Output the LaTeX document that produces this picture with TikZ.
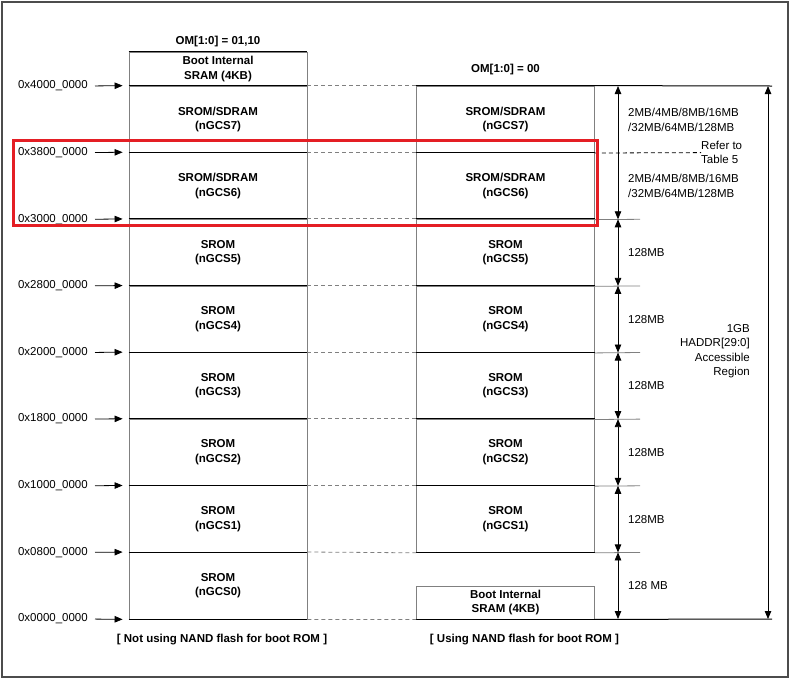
\documentclass[tikz,border=0pt]{standalone}
\usepackage{fontspec}
\setmainfont{Liberation Sans}
\usepackage{tikz}
\usetikzlibrary{arrows.meta,positioning}
\definecolor{hlred}{RGB}{228,30,36}
\newcommand{\mapfont}{\fontsize{11.5}{14.5}\selectfont}

\begin{document}
\begin{tikzpicture}[x=1pt, y=-1pt,
  every node/.style={font=\mapfont},
  cell/.style={draw=black!50, line width=0.8pt, minimum width=178pt,
               minimum height=66.625pt, inner sep=0pt,
               font=\mapfont\bfseries, align=center},
  bootbox/.style={cell, minimum height=34pt},
  addr/.style={anchor=east, inner sep=0pt},
  sz/.style={anchor=west, align=left, inner sep=0pt},
  capt/.style={font=\mapfont\bfseries},
  arr/.style={-{Triangle[length=8pt,width=6.5pt]}, line width=0.8pt,
              shorten <=7pt, shorten >=6pt},
  darr/.style={{Triangle[length=8pt,width=6.5pt]}-{Triangle[length=8pt,width=6.5pt]},
               line width=0.8pt},
  bound/.style={line width=1pt},
  guide/.style={black!50, line width=0.8pt},
  link/.style={dash pattern=on 4pt off 3pt, black!50, line width=0.8pt},
]
\useasboundingbox (0,0) rectangle (791,681);

% ---- Frame -----------------------------------------------------------------
\draw[black!70, line width=1.3pt] (2,2) rectangle (788,677);

% ---- Left map: OM[1:0] = 01,10 ---------------------------------------------
\node[capt] (omA) at (218,42) {OM[1:0] = 01,10};
\node[bootbox] (bootL) at (218,69) {Boot Internal\\SRAM (4KB)};
\node[cell] (L7) at (218,119.3) {SROM/SDRAM\\(nGCS7)};
\node[cell] (L6) at (218,185.9) {SROM/SDRAM\\(nGCS6)};
\node[cell] (L5) at (218,252.6) {SROM\\(nGCS5)};
\node[cell] (L4) at (218,319.2) {SROM\\(nGCS4)};
\node[cell] (L3) at (218,385.8) {SROM\\(nGCS3)};
\node[cell] (L2) at (218,452.4) {SROM\\(nGCS2)};
\node[cell] (L1) at (218,519.1) {SROM\\(nGCS1)};
\node[cell] (L0) at (218,585.7) {SROM\\(nGCS0)};
\node[capt] (capL) at (222,640) {[ Not using NAND flash for boot ROM ]};

% row boundaries
\draw[bound] (bootL.north west) -- (bootL.north east);
\draw[bound] (L7.north west) -- (L7.north east);
\draw[bound] (L6.north west) -- (L6.north east);
\draw[bound] (L5.north west) -- (L5.north east);
\draw[bound] (L4.north west) -- (L4.north east);
\draw[bound] (L3.north west) -- (L3.north east);
\draw[bound] (L2.north west) -- (L2.north east);
\draw[bound] (L1.north west) -- (L1.north east);
\draw[bound] (L0.north west) -- (L0.north east);
\draw[bound] (L0.south west) -- (L0.south east);

% ---- Addresses -------------------------------------------------------------
\node[addr] (a40) at (88,86) {0x4000\_0000};
\node[addr] (a38) at (88,152.6) {0x3800\_0000};
\node[addr] (a30) at (88,219.3) {0x3000\_0000};
\node[addr] (a28) at (88,285.9) {0x2800\_0000};
\node[addr] (a20) at (88,352.5) {0x2000\_0000};
\node[addr] (a18) at (88,419.1) {0x1800\_0000};
\node[addr] (a10) at (88,485.8) {0x1000\_0000};
\node[addr] (a08) at (88,552.4) {0x0800\_0000};
\node[addr] (a00) at (88,619) {0x0000\_0000};
\draw[arr] (a40.east) -- (L7.north west);
\draw[arr] (a38.east) -- (L6.north west);
\draw[arr] (a30.east) -- (L5.north west);
\draw[arr] (a28.east) -- (L4.north west);
\draw[arr] (a20.east) -- (L3.north west);
\draw[arr] (a18.east) -- (L2.north west);
\draw[arr] (a10.east) -- (L1.north west);
\draw[arr] (a08.east) -- (L0.north west);
\draw[arr] (a00.east) -- (L0.south west);

% ---- Right map: OM[1:0] = 00 -----------------------------------------------
\node[capt] (omB) at (505.5,70) {OM[1:0] = 00};
\node[cell] (R7) at (505.5,119.3) {SROM/SDRAM\\(nGCS7)};
\node[cell] (R6) at (505.5,185.9) {SROM/SDRAM\\(nGCS6)};
\node[cell] (R5) at (505.5,252.6) {SROM\\(nGCS5)};
\node[cell] (R4) at (505.5,319.2) {SROM\\(nGCS4)};
\node[cell] (R3) at (505.5,385.8) {SROM\\(nGCS3)};
\node[cell] (R2) at (505.5,452.4) {SROM\\(nGCS2)};
\node[cell] (R1) at (505.5,519.1) {SROM\\(nGCS1)};
\node[bootbox, minimum height=33pt] (bootR) at (505.5,602.5) {Boot Internal\\SRAM (4KB)};
\node[capt] (capR) at (524.5,640) {[ Using NAND flash for boot ROM ]};

\draw[bound] (R7.north west) -- (R7.north east);
\draw[bound] (R6.north west) -- (R6.north east);
\draw[bound] (R5.north west) -- (R5.north east);
\draw[bound] (R4.north west) -- (R4.north east);
\draw[bound] (R3.north west) -- (R3.north east);
\draw[bound] (R2.north west) -- (R2.north east);
\draw[bound] (R1.north west) -- (R1.north east);
\draw[bound] (R1.south west) -- (R1.south east);
\draw[bound] (bootR.south west) -- (bootR.south east);

% dashed links between the maps
\draw[link] (L7.north east) -- (R7.north west);
\draw[link] (L6.north east) -- (R6.north west);
\draw[link] (L5.north east) -- (R5.north west);
\draw[link] (L4.north east) -- (R4.north west);
\draw[link] (L3.north east) -- (R3.north west);
\draw[link] (L2.north east) -- (R2.north west);
\draw[link] (L1.north east) -- (R1.north west);
\draw[link] (L0.north east) -- (R1.south west);
\draw[link] (L0.south east) -- (bootR.south west);

% ---- Sizes -----------------------------------------------------------------
\coordinate (topEnd) at (772,86);
\coordinate (botEnd) at (772,619);
\draw[bound] (R7.north east) -- (topEnd);
\draw[bound] (bootR.south east) -- (botEnd);
\coordinate (t5) at (640,219.3);
\coordinate (t4) at (640,285.9);
\coordinate (t3) at (640,352.5);
\coordinate (t2) at (640,419.1);
\coordinate (t1) at (640,485.8);
\coordinate (t0) at (640,552.4);
\draw[guide] (R6.south east) -- (t5);
\draw[guide] (R5.south east) -- (t4);
\draw[guide] (R4.south east) -- (t3);
\draw[guide] (R3.south east) -- (t2);
\draw[guide] (R2.south east) -- (t1);
\draw[guide] (R1.south east) -- (t0);

\node[sz] (refer) at (701,152.6) {Refer to\\Table 5};
\draw[link, black] (R7.south east) -- (refer.west);

\coordinate (s0) at (618,86);
\coordinate (s2) at (618,219.3);
\coordinate (s3) at (618,285.9);
\coordinate (s4) at (618,352.5);
\coordinate (s5) at (618,419.1);
\coordinate (s6) at (618,485.8);
\coordinate (s7) at (618,552.4);
\coordinate (s8) at (618,619);
\draw[darr] (s0) -- (s2);
\draw[darr] (s2) -- (s3);
\draw[darr] (s3) -- (s4);
\draw[darr] (s4) -- (s5);
\draw[darr] (s5) -- (s6);
\draw[darr] (s6) -- (s7);
\draw[darr] (s7) -- (s8);

\node[sz] (sz7) at (628,120) {2MB/4MB/8MB/16MB\\/32MB/64MB/128MB};
\node[sz] (sz6) at (628,186) {2MB/4MB/8MB/16MB\\/32MB/64MB/128MB};
\node[sz] (sz5) at (628,252.6) {128MB};
\node[sz] (sz4) at (628,319.2) {128MB};
\node[sz] (sz3) at (628,385.8) {128MB};
\node[sz] (sz2) at (628,452.4) {128MB};
\node[sz] (sz1) at (628,519.1) {128MB};
\node[sz] (sz0) at (628,585.7) {128 MB};

% ---- Whole region ----------------------------------------------------------
\coordinate (g0) at (768,86);
\coordinate (g1) at (768,619);
\draw[darr] (g0) -- (g1);
\node[anchor=east, align=right, inner sep=0pt] (region) at (750,351)
  {1GB\\HADDR[29:0]\\Accessible\\Region};

% ---- Highlight -------------------------------------------------------------
\draw[hlred, line width=3pt] (13.5,140.5) rectangle (597,225.5);

\end{tikzpicture}
\end{document}
